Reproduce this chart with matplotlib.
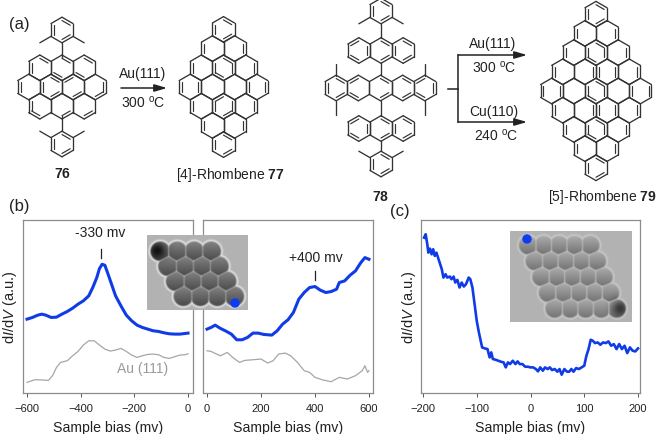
import numpy as np
import matplotlib
matplotlib.use('Agg')
import matplotlib.pyplot as plt
from matplotlib.patches import Circle

plt.rcParams['font.family'] = ['Liberation Sans', 'DejaVu Sans']
plt.rcParams['mathtext.fontset'] = 'custom'
plt.rcParams['mathtext.rm'] = 'Liberation Sans'
plt.rcParams['mathtext.it'] = 'Liberation Sans:italic'
plt.rcParams['mathtext.bf'] = 'Liberation Sans:bold'

# spectra, panel b left
bias_left = [-600, -580, -560, -545, -530, -510, -490, -470, -450, -430, -410, -390, -370, -355, -340, -330, -320,
             -310, -300, -285, -270, -250, -230, -210, -190, -170, -150, -130, -110, -90, -70, -50, -30, -10, 0]
didv_left = [222, 227, 234, 237, 234, 227, 228, 237, 245, 255, 267, 277, 292, 317, 347, 374, 387,
             384, 362, 327, 292, 262, 234, 217, 204, 197, 192, 187, 185, 181, 178, 177, 177, 179, 180]
bias_left_au = [-600, -570, -540, -520, -505, -490, -475, -450, -430, -410, -390, -370, -350, -330, -310, -290,
                -270, -250, -230, -210, -190, -170, -150, -130, -110, -90, -70, -50, -30, -10, 0]
didv_left_au = [32, 40, 39, 38, 52, 77, 92, 97, 112, 125, 144, 157, 157, 144, 132, 126,
                129, 134, 125, 114, 107, 112, 116, 117, 115, 107, 104, 109, 114, 115, 118]

# panel b right
bias_right = [0, 15, 30, 50, 70, 90, 110, 130, 150, 170, 190, 210, 240, 260, 280, 300, 320, 340, 360, 380, 400,
              420, 440, 460, 480, 490, 510, 530, 550, 570, 585, 600]
didv_right = [192, 197, 204, 194, 186, 177, 160, 160, 167, 180, 180, 176, 174, 187, 207, 220, 242, 282, 302, 317, 320,
              309, 302, 305, 312, 332, 337, 354, 367, 392, 407, 402]
bias_right_au = [0, 15, 30, 50, 75, 95, 120, 140, 170, 200, 225, 245, 265, 290, 310, 335, 360, 380, 400, 430, 460,
                 490, 520, 550, 575, 585, 595, 600]
didv_right_au = [127, 125, 119, 112, 122, 107, 92, 98, 100, 102, 90, 97, 117, 120, 112, 92, 67, 62, 47, 39, 34,
                 47, 42, 52, 67, 82, 62, 67]

# panel c
bias_c = [-198, -195, -192, -190, -187, -184, -181, -178, -175, -172, -168, -165, -162, -158, -155, -150, -147, -143,
          -140, -136, -132, -128, -124, -120, -115, -112, -108, -104, -100, -96, -90, -85, -80, -76, -73, -70, -65,
          -60, -55, -50, -46, -42, -38, -33, -28, -24, -20, -15, -10, -5, 0, 5, 10, 14, 18, 23, 27, 32, 36, 40, 45,
          50, 54, 58, 63, 68, 72, 76, 80, 85, 90, 95, 100, 104, 108, 112, 116, 120, 125, 130, 135, 140, 145, 150,
          155, 160, 165, 170, 175, 180, 185, 190, 195, 200]
didv_c = [467, 477, 447, 422, 434, 417, 432, 412, 422, 407, 387, 372, 347, 357, 347, 350, 342, 350,
          332, 340, 317, 332, 320, 327, 347, 342, 317, 267, 217, 182, 137, 134, 132, 107, 122, 102, 100,
          97, 94, 92, 77, 92, 87, 97, 87, 95, 87, 87, 79, 79, 77, 77, 72, 65, 77, 67, 77, 72, 77, 69, 72,
          64, 72, 55, 72, 64, 64, 72, 64, 75, 72, 77, 82, 112, 132, 160, 157, 150, 152, 145, 152, 150, 155, 142,
          147, 132, 147, 132, 142, 120, 137, 127, 125, 134]

ticks_left = [-600, -400, -200, 0]
ticks_right = [0, 200, 400, 600]
ticks_c = [-200, -100, 0, 100, 200]

# molecules: {(row, half-ring offset): edges with a double bond}
rings_76 = {(-1, -2): [0, 4], (-1, 0): [0, 3], (-1, 2): [0, 3],
            (0, -3): [4], (0, -1): [4, 0, 2], (0, 1): [5, 2], (0, 3): [1, 2],
            (1, -2): [3, 4], (1, 0): [2], (1, 2): [2]}
rings_77 = {(-3, 0): [0, 2, 4], (-2, -1): [4], (-2, 1): [1],
            (-1, -2): [4], (-1, 0): [0, 1, 4, 3], (-1, 2): [1],
            (0, -3): [4, 1], (0, -1): [], (0, 1): [], (0, 3): [1, 4],
            (1, -2): [4], (1, 0): [2, 1, 4, 5], (1, 2): [1],
            (2, -1): [4], (2, 1): [1], (3, 0): [0, 2, 4]}
rings_79 = {(-4, 0): [0, 2, 4], (-3, -1): [4], (-3, 1): [1],
            (-2, -2): [4], (-2, 0): [0, 1, 3, 4], (-2, 2): [1],
            (-1, -3): [4], (-1, -1): [1], (-1, 1): [1, 4], (-1, 3): [1],
            (0, -4): [1, 4], (0, -2): [], (0, 0): [0, 1, 3, 4], (0, 2): [], (0, 4): [1, 4],
            (1, -3): [4], (1, -1): [1], (1, 1): [1, 4], (1, 3): [1],
            (2, -2): [4], (2, 0): [0, 1, 3, 4], (2, 2): [1],
            (3, -1): [4], (3, 1): [1], (4, 0): [0, 2, 4]}
rings_anth = {(0, -2): [5, 3, 1], (0, 0): [0, 2], (0, 2): [0, 2, 4]}
rings_pent = {(0, -4): [4, 0, 2], (0, -2): [5, 3], (0, 0): [0, 2], (0, 2): [0, 2], (0, 4): [5, 3, 1]}
rings_xyl = {(0, 0): [0, 2, 4]}

fig = plt.figure(figsize=(6.57, 4.35), dpi=100)


def panel(x0, x1, y0, y1):
    ax = fig.add_axes([x0 / 657, 1 - y1 / 435, (x1 - x0) / 657, (y1 - y0) / 435])
    for s in ax.spines.values():
        s.set_color('#8c8c8c')
        s.set_linewidth(0.9)
    ax.set_yticks([])
    ax.set_ylim(0, 520)
    ax.tick_params(axis='x', length=3, width=0.7, color='#555555', labelsize=8, pad=4, labelcolor='#222222')
    ax.set_xlabel('Sample bias (mv)', fontsize=10.2, labelpad=5, color='#222222')
    return ax


ax1 = panel(23, 193, 221, 394)
ax1.plot(bias_left, didv_left, color='#0f3ce6', lw=2.2)
ax1.plot(bias_left_au, didv_left_au, color='#a6a6a6', lw=0.9)
ax1.set_xlim(-615, 18.6)
ax1.set_xticks(ticks_left)
ax1.set_xticklabels(['\u2212600', '\u2212400', '\u2212200', '0'])
ax1.set_ylabel('d$\\mathit{I}$/d$\\mathit{V}$ (a.u.)', fontsize=10.5, labelpad=3, color='#222222')
ax1.plot([-325, -325], [407, 434], color='#222222', lw=0.9)

ax2 = panel(203, 373, 221, 394)
ax2.plot(bias_right, didv_right, color='#0f3ce6', lw=2.2)
ax2.plot(bias_right_au, didv_right_au, color='#a6a6a6', lw=0.9)
ax2.set_xlim(-15, 615)
ax2.set_xticks(ticks_right)
ax2.plot([400, 400], [340, 367], color='#222222', lw=0.9)

ax3 = panel(421, 640, 221, 394)
ax3.plot(bias_c, didv_c, color='#0f3ce6', lw=1.9)
ax3.set_xlim(-203.7, 203.7)
ax3.set_xticks(ticks_c)
ax3.set_xticklabels(['\u2212200', '\u2212100', '0', '100', '200'])
ax3.set_ylabel('d$\\mathit{I}$/d$\\mathit{V}$ (a.u.)', fontsize=10.5, labelpad=2, color='#222222')

# pixel overlay for the scheme and the insets
ov = fig.add_axes([0, 0, 1, 1], zorder=5)
ov.set_xlim(0, 657)
ov.set_ylim(435, 0)
ov.axis('off')

BOND = '#333333'
A = 12.8
W = A * np.sqrt(3)


def corners(cx, cy):
    ang = np.radians(-90 + 60 * np.arange(6))
    return np.c_[cx + A * np.cos(ang), cy + A * np.sin(ang)]


def bond(p, q, lw=0.95):
    ov.plot([p[0], q[0]], [p[1], q[1]], color=BOND, lw=lw, solid_capstyle='round')


def molecule(rings, cx, cy):
    for (row, off), dbl in rings.items():
        c = np.array([cx + off * W / 2, cy + row * 1.5 * A])
        v = corners(*c)
        for i in range(6):
            bond(v[i], v[(i + 1) % 6])
        for i in dbl:
            bond(c + (v[i] - c) * 0.74, c + (v[(i + 1) % 6] - c) * 0.74, lw=0.85)


def xylyl(cx, cy, up):
    molecule(rings_xyl, cx, cy)
    v = corners(cx, cy)
    for i in ([2, 4] if up else [1, 5]):
        d = (v[i] - np.array([cx, cy])) / A
        bond(v[i], v[i] + d * A)


# 76
molecule(rings_76, 62, 88)
xylyl(62, 31, True)
xylyl(62, 145, False)
bond((62, 43.8), (62, 59))
bond((62, 117), (62, 132.2))

# 77 and 79
molecule(rings_77, 223.5, 88)
molecule(rings_79, 596, 92)

# 78
molecule(rings_pent, 380.5, 89)
molecule(rings_anth, 381, 51.5)
molecule(rings_anth, 381, 129.5)
xylyl(381, 12, True)
xylyl(381, 165, False)
bond((381, 24.8), (381, 38.7))
bond((381, 64.3), (381, 76.2))
bond((381, 101.8), (381, 116.7))
bond((381, 142.3), (381, 152.2))
for mx in (336, 425):
    bond((mx, 64.5), (mx, 76.5))
    bond((mx, 101.5), (mx, 116))

# arrows
arrow = dict(arrowstyle='-|>,head_length=0.75,head_width=0.22', color='#222222', lw=1.1, shrinkA=0, shrinkB=0)
ov.annotate('', xy=(167, 89), xytext=(121, 89), arrowprops=arrow)
ov.plot([448, 458], [90, 90], color='#222222', lw=1.1)
ov.plot([458, 458], [56, 123], color='#222222', lw=1.1)
ov.annotate('', xy=(527, 56), xytext=(458, 56), arrowprops=arrow)
ov.annotate('', xy=(527, 123), xytext=(458, 123), arrowprops=arrow)


def label(x, y, s, size=10, color='#222222', ha='center'):
    ov.text(x, y, s, fontsize=size, color=color, ha=ha, va='center')


label(143, 74, 'Au(111)')
label(143, 103, '300 $^{\\mathrm{o}}$C')
label(493, 44, 'Au(111)')
label(494, 68, '300 $^{\\mathrm{o}}$C')
label(494, 112, 'Cu(110)')
label(496, 136, '240 $^{\\mathrm{o}}$C')
label(62, 174, '$\\mathbf{76}$')
label(230, 175, '[4]-Rhombene $\\mathbf{77}$')
label(381, 197, '$\\mathbf{78}$')
label(602, 197, '[5]-Rhombene $\\mathbf{79}$')
label(19, 25, '(a)', 12)
label(19, 207, '(b)', 12)
label(400, 212, '(c)', 12)
label(100, 233, '-330 mv')
label(316, 258, '+400 mv')
label(143, 369, 'Au (111)', 10, '#9a9a9a')


# STM insets, shaded from the ring positions
def stm(x0, x1, y0, y1, start, dx, shift, n, R, base, depth, rim, dark):
    yy, xx = np.mgrid[y0:y1:0.5, x0:x1:0.5]
    cs = np.array([(start[0] + c * dx + r * shift[0], start[1] + r * shift[1]) for r in range(n) for c in range(n)])
    dist = np.sqrt((xx[..., None] - cs[:, 0]) ** 2 + (yy[..., None] - cs[:, 1]) ** 2)
    order = np.sort(dist, axis=-1)
    near = np.argmin(dist, axis=-1)
    d, d2 = order[..., 0], order[..., 1]
    wall = np.clip((d2 - d) / 2.2, 0, 1)
    dy = (yy - cs[near, 1]) / R
    cell = base - wall * (depth + 0.12 * dy)
    dk = np.exp(-((xx - dark[0]) ** 2 + (yy - dark[1]) ** 2) / (2 * 6.0 ** 2))
    cell = cell - 0.35 * dk * wall
    m = np.clip((R - d) / 1.6, 0, 1)
    img = 0.70 * (1 - m) + cell * m
    img = img + rim * np.exp(-((d - R - 0.3) / 1.0) ** 2)
    ov.imshow(img, cmap='gray', vmin=0, vmax=1, extent=(x0, x1, y1, y0), aspect='auto', interpolation='bilinear')


stm(147, 248, 236, 311, (160, 252), 17, (7.7, 15), 4, 10.5, 0.60, 0.20, 0.18, (157, 250))
stm(510, 632, 232, 323, (528, 246), 15.5, (6.6, 15.8), 5, 10.0, 0.72, 0.16, 0.08, (620, 308))
ov.set_xlim(0, 657)
ov.set_ylim(435, 0)
ov.add_patch(Circle((235, 304), 4, color='#0f3cf0', zorder=6))
ov.add_patch(Circle((527, 240), 4, color='#0f3cf0', zorder=6))

fig.savefig('out.png', dpi=100)
